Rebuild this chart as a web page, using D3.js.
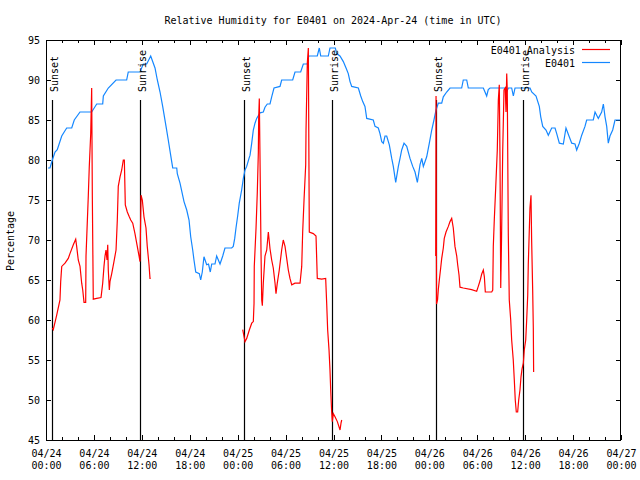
<!DOCTYPE html>
<html><head><meta charset="utf-8">
<script src="https://cdn.jsdelivr.net/npm/d3@7"></script>
<style>
body{margin:0;background:#fff}
text{font-family:"DejaVu Sans Mono","Liberation Mono",monospace;font-size:10px;fill:#000}
</style>
</head><body>
<svg id="c" width="640" height="480"></svg>
<script>
// ---------------- data ----------------
const chartTitle = "Relative Humidity for E0401 on 2024-Apr-24 (time in UTC)";
const yLabel = "Percentage";
const seriesNames = ["E0401 Analysis", "E0401"];
const seriesColors = ["#ff0000", "#1487ff"];
const yTicks = [45,50,55,60,65,70,75,80,85,90,95];
const tickHours = [0,6,12,18,24,30,36,42,48,54,60,66,72];
const tickDates = ["04/24","04/24","04/24","04/24","04/25","04/25","04/25","04/25","04/26","04/26","04/26","04/26","04/27"];
const tickTimes = ["00:00","06:00","12:00","18:00","00:00","06:00","12:00","18:00","00:00","06:00","12:00","18:00","00:00"];
const eventHours = [0.79, 11.77, 24.84, 35.87, 48.84, 59.78];
const eventLabels = ["Sunset","Sunrise","Sunset","Sunrise","Sunset","Sunrise"];
const eventTop = 87.5;

// observed E0401 (hours since 2024-04-24 00:00 UTC)
const blueHours = [0.25,0.5,0.79,1.13,1.41,1.97,2.59,3.22,3.54,4.26,5.72,6.35,7.1,7.18,7.8,8.77,10.1,10.3,11.77,12.18,12.61,13.11,13.65,13.94,14.28,14.61,15.03,15.31,15.74,15.87,16.37,16.44,16.78,17.28,17.62,17.91,18.12,18.37,18.53,18.75,19.2,19.37,19.57,19.78,20.12,20.35,20.57,20.75,21.16,21.37,21.79,22.13,22.41,23.25,23.45,23.63,23.79,24.0,24.2,24.5,24.71,24.92,25.13,25.42,25.55,25.76,25.96,26.17,26.38,26.8,27.21,27.42,27.71,28.05,28.26,28.55,29.3,29.51,30.89,31.18,31.89,32.22,32.72,32.9,33.97,34.22,34.4,35.35,35.56,36.23,36.4,36.81,37.23,37.57,37.85,38.07,38.28,39.11,39.41,39.66,39.94,40.16,40.98,41.2,41.61,41.82,42.04,42.24,42.45,42.66,42.99,43.29,43.49,43.79,44.12,44.33,44.54,44.83,45.17,45.58,45.92,46.21,46.5,46.83,47.05,47.25,47.67,48.0,48.3,48.58,48.84,49.12,49.55,49.75,50.17,50.59,52.05,52.25,52.68,52.88,54.76,54.97,55.18,55.38,55.6,57.48,57.69,57.89,58.31,58.52,58.73,60.61,60.82,61.36,61.77,61.95,62.2,62.61,62.9,63.32,63.74,63.95,64.28,64.78,65.11,65.52,65.83,66.24,66.45,66.78,67.08,67.49,67.7,68.53,68.75,69.16,69.58,69.79,70.0,70.21,70.41,70.62,70.96,71.25,71.87];
const blueValues = [79,79,80,81,81.3,83,84,84,85,86,86,87,87,88,89,90,90,91,91,92,92,93,91.5,90,88.5,86.7,84.2,82.5,79.8,79,79,78.3,77.1,74.8,73.75,72.5,70.4,68.75,67.5,66,65.8,65,66,67.9,66.9,67,66,67,67,68,67,68,69,69,69.2,70.2,71.5,73,74.6,76.25,77.7,78.75,79.2,80.2,80.6,82.1,83.75,84.6,85.2,85.9,86,86.6,87,87,87.9,89,89.2,90,90,91,91,92,92,93,93,94,93,93,94,94,93.3,93,92.3,91.5,90.8,89.8,89.2,89,88,87.3,86.7,85.2,85,84.2,84,83.3,82.3,82.1,83,83,81.9,80.2,79.2,77.2,79.2,80.2,81.25,82.1,81.7,80.2,79.2,78.5,77.2,79.4,80.2,79.2,80.4,82.1,83.75,85,86.25,87.1,87.1,87.9,88.5,89,89,90,90,89,89,88.5,88,88.8,89,89,88.5,89,89,88,89,89,88.5,88,86.7,85.4,84.2,83.75,83.1,84,84,83.3,82.1,82,84,82.9,82.1,82,81.25,82.1,83.1,84.2,85,85,86,85.2,86,87,85.4,84.2,82.1,83,83.75,85,85];

// analysis E0401, three night-time runs
const redHours1 = [0.79,0.91,1.34,1.75,1.84,1.97,2.38,2.79,3.0,3.42,3.72,3.84,4.04,4.26,4.47,4.6,4.76,4.97,5.01,5.3,5.42,5.6,5.72,5.8,5.92,6.35,6.89,7.1,7.26,7.39,7.51,7.64,7.73,7.8,7.93,8.01,8.23,8.51,8.77,8.93,9.05,9.27,9.48,9.68,9.81,9.93,10.18,10.43,10.61,10.86,11.14,11.43,11.65,11.77,11.9,12.06,12.27,12.52,12.68,12.9,13.02,13.11];
const redValues1 = [59,58.8,60.6,62.5,64.8,66.7,67.1,67.7,68.3,69.4,70.1,69.2,67.5,66.7,64.6,63.75,62.2,62.2,68,75.6,79.2,83.3,89,75.6,62.6,62.7,62.8,64.6,66.7,68,68.75,67.5,69.4,66.25,63.75,64.8,65.8,67.3,68.75,72.5,76.7,77.9,78.75,80,80,74.4,73.5,72.9,72.5,72.1,70.8,69.2,68,67.3,75.6,75,72.9,71.5,69.2,66.9,65.2,65.2];
const redHours2 = [24.63,24.71,24.92,25.13,25.46,25.76,25.96,26.05,26.08,26.3,26.46,26.59,26.63,26.71,26.8,26.93,27.01,27.09,27.21,27.42,27.64,27.84,28.05,28.26,28.46,28.68,28.8,28.96,29.21,29.51,29.71,29.93,30.14,30.34,30.55,30.77,31.18,31.81,32.02,32.14,32.31,32.52,32.56,32.72,32.85,32.97,33.47,33.81,33.97,34.52,35.02,35.15,35.27,35.44,35.56,35.65,35.77,35.85,35.98,36.19,36.48,36.82,36.94,37.03];
const redValues2 = [58.8,58.4,57.3,57.7,58.75,59.6,59.8,62.1,66.7,71.5,76,81,85.2,87.7,80,68,62.5,61.8,64.6,68,68.75,71,68.9,67.5,66.5,64.6,63.3,64.6,66.25,68.75,70,69.2,67.7,66.25,65.2,64.4,64.6,64.6,66.7,71,75,79.4,83.75,92.1,94,71,70.8,70.5,65.2,65.1,65.2,62,58.75,56.25,53.75,51.25,48.5,47.3,48.3,47.9,47.3,46.25,47.1,47.5];
const redHours3 = [48.8,48.84,48.9,49.03,49.12,49.25,49.42,49.55,49.75,49.87,50.09,50.38,50.59,50.8,51.0,51.21,51.43,51.55,51.72,51.84,52.25,53.3,53.93,54.13,54.35,54.56,54.76,54.89,55.01,55.81,55.94,56.01,56.14,56.31,56.51,56.64,56.76,56.85,56.94,57.04,57.19,57.35,57.51,57.6,57.69,57.76,57.89,58.01,58.19,58.31,58.51,58.64,58.76,58.89,59.06,59.19,59.35,59.48,59.61,59.77,59.89,60.07,60.19,60.32,60.39,60.6,60.73,60.81,60.94,61.02,61.06];
const redValues3 = [68,88,62,62.5,63.75,65,66.5,67.7,69,70.2,71,71.7,72.3,72.7,71.5,69.2,68,66.9,65.6,64.1,64,63.8,63.6,64.2,64.9,65.75,66.25,65.4,63.5,63.5,63.75,69.2,72.7,76.5,81.25,87.5,89.4,80,64,70,81.25,88.75,89,86,90.8,88.75,70.6,62.5,60,57.5,55,52.5,50,48.5,48.5,50,51.25,52.9,53.9,54.6,56.25,57.5,60,63.1,66.9,74,75.6,70,63.75,59,53.5];

// ---------------- drawing ----------------
const H = 3600*1000;
const t0 = Date.UTC(2024,3,24,0,0);
const toDate = h => new Date(t0 + h*H);
const svg = d3.select("#c");
const L = 46, R = 621, T = 40, B = 440;

const x = d3.scaleUtc().domain([toDate(0), toDate(72)]).range([L, R]);
const y = d3.scaleLinear().domain([45, 95]).range([B, T]);

svg.append("rect").attr("width",640).attr("height",480).attr("fill","#fff");

svg.append("text").attr("x", 333).attr("y", 23.5).attr("text-anchor","middle").text(chartTitle);
svg.append("text").attr("transform","translate(14,241) rotate(-90)").attr("text-anchor","middle").text(yLabel);

// axes
const majorDates = tickHours.map(toDate);
const minorDates = d3.range(0, 73, 2).filter(h => h % 6 !== 0).map(toDate);
const fmtIdx = d => tickHours.indexOf(Math.round((d - t0)/H));

const bottom = svg.append("g").attr("transform", `translate(0,${B})`)
  .call(d3.axisBottom(x).tickValues(majorDates).tickSizeInner(-5).tickSizeOuter(0).tickPadding(10)
    .tickFormat(d => tickDates[fmtIdx(d)]));
bottom.selectAll(".tick text").each(function(d){
  const s = d3.select(this);
  s.append("tspan").attr("x", 0).attr("dy", "1.2em").text(tickTimes[fmtIdx(d)]);
});
svg.append("g").attr("transform", `translate(0,${B})`)
  .call(d3.axisBottom(x).tickValues(minorDates).tickSizeInner(-3).tickSizeOuter(0).tickFormat(""));
svg.append("g").attr("transform", `translate(0,${T})`)
  .call(d3.axisTop(x).tickValues(majorDates).tickSizeInner(-5).tickSizeOuter(0).tickFormat(""));
svg.append("g").attr("transform", `translate(0,${T})`)
  .call(d3.axisTop(x).tickValues(minorDates).tickSizeInner(-3).tickSizeOuter(0).tickFormat(""));
svg.append("g").attr("transform", `translate(${L},0)`)
  .call(d3.axisLeft(y).tickValues(yTicks).tickSizeInner(-5).tickSizeOuter(0).tickPadding(6).tickFormat(d3.format("d")));
svg.append("g").attr("transform", `translate(${R},0)`)
  .call(d3.axisRight(y).tickValues(yTicks).tickSizeInner(-5).tickSizeOuter(0).tickFormat(""));

svg.selectAll(".domain").remove();
svg.selectAll(".tick line").attr("stroke","#000").attr("shape-rendering","crispEdges");
svg.selectAll(".tick text").attr("font-family", null).attr("font-size", null).attr("fill","#000");

svg.append("rect").attr("x", L+0.5).attr("y", T+0.5).attr("width", R-L-1).attr("height", B-T)
  .attr("fill","none").attr("stroke","#000").attr("shape-rendering","crispEdges");

// clip
svg.append("clipPath").attr("id","clip").append("rect")
  .attr("x", L).attr("y", T).attr("width", R-L).attr("height", B-T);
const plot = svg.append("g").attr("clip-path","url(#clip)");

// sunset / sunrise markers
eventHours.forEach((h, i) => {
  const xx = Math.round(x(toDate(h))) + 0.5;
  plot.append("line").attr("x1", xx).attr("x2", xx).attr("y1", y(eventTop)).attr("y2", B)
    .attr("stroke","#000").attr("stroke-width",1.2);
  svg.append("text").attr("transform", `translate(${xx+5.5},${y(eventTop)-8}) rotate(-90)`)
    .attr("text-anchor","start").text(eventLabels[i]);
});

const line = d3.line().x(d => x(toDate(d[0]))).y(d => y(d[1]));
const zip = (a, b) => a.map((h, i) => [h, b[i]]);

plot.append("path").datum(zip(blueHours, blueValues))
  .attr("d", line).attr("fill","none").attr("stroke", seriesColors[1]).attr("stroke-width", 1.2);

[[redHours1, redValues1], [redHours2, redValues2], [redHours3, redValues3]].forEach(([hs, vs]) => {
  plot.append("path").datum(zip(hs, vs))
    .attr("d", line).attr("fill","none").attr("stroke", seriesColors[0]).attr("stroke-width", 1.2);
});

// legend
seriesNames.forEach((name, i) => {
  const yy = 49 + i*13;
  svg.append("text").attr("x", 575).attr("y", yy + 4.5).attr("text-anchor","end").text(name);
  svg.append("line").attr("x1", 582).attr("x2", 610).attr("y1", yy + 0.5).attr("y2", yy + 0.5)
    .attr("stroke", seriesColors[i]).attr("stroke-width", 1.2);
});
</script>
</body></html>
